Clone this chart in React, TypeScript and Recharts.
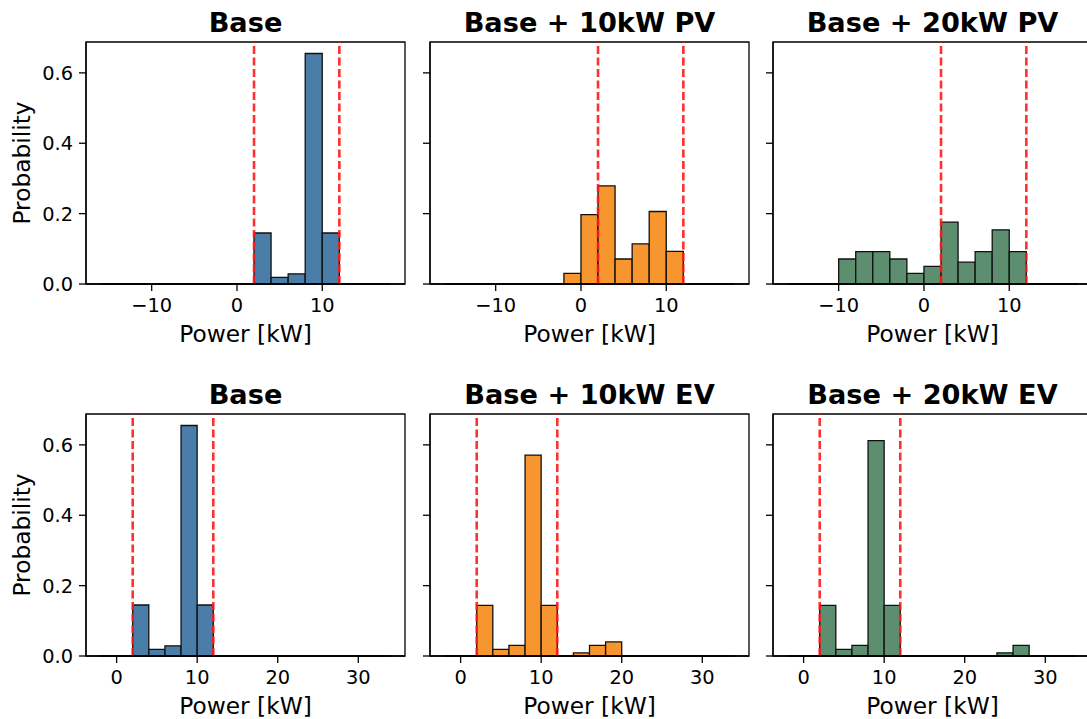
import React from "react";
import {
  BarChart,
  Bar,
  XAxis,
  YAxis,
  ReferenceLine,
  ReferenceArea,
} from "recharts";

// bin centres (2 kW wide bins)
const topBins = [-15, -13, -11, -9, -7, -5, -3, -1, 1, 3, 5, 7, 9, 11, 13, 15, 17];
const bottomBins = [-1, 1, 3, 5, 7, 9, 11, 13, 15, 17, 19, 21, 23, 25, 27, 29, 31, 33];

const baseTop = [0, 0, 0, 0, 0, 0, 0, 0, 0, 0.145, 0.019, 0.029, 0.655, 0.145, 0, 0, 0];
const pv10 = [0, 0, 0, 0, 0, 0, 0, 0.03, 0.197, 0.279, 0.071, 0.114, 0.206, 0.093, 0, 0, 0];
const pv20 = [0, 0, 0, 0.071, 0.092, 0.092, 0.071, 0.03, 0.05, 0.176, 0.062, 0.092, 0.154, 0.092, 0, 0, 0];

const baseBottom = [0, 0, 0.145, 0.019, 0.029, 0.655, 0.145, 0, 0, 0, 0, 0, 0, 0, 0, 0, 0, 0];
const ev10 = [0, 0, 0.144, 0.019, 0.03, 0.571, 0.144, 0, 0.009, 0.03, 0.04, 0, 0, 0, 0, 0, 0, 0];
const ev20 = [0, 0, 0.144, 0.019, 0.03, 0.612, 0.144, 0, 0, 0, 0, 0, 0, 0.009, 0.03, 0, 0, 0];

const topTicks = [-10, 0, 10];
const bottomTicks = [0, 10, 20, 30];
const yTicks = [0, 0.2, 0.4, 0.6];
const limits = [2, 12];

const topTitles = ["Base", "Base + 10kW PV", "Base + 20kW PV"];
const bottomTitles = ["Base", "Base + 10kW EV", "Base + 20kW EV"];
const colors = ["#4a7da7", "#f7952e", "#5c8e6f"];

const BIN_W = 2;
const FONT = "DejaVu Sans";
const PLOT_W = 319;
const PLOT_H = 242;
const M_TOP = 10;
const Y_W = 80;
const X_H = 70;
const colLefts = [86, 430, 773];
const rowTops = [42, 414];

const yMax = Math.max(...baseTop, ...pv10, ...pv20, ...baseBottom, ...ev10, ...ev20) * 1.05;

const fmtX = (v: number) => (v < 0 ? "\u2212" + Math.abs(v) : String(v));

interface PanelProps {
  bins: number[];
  values: number[];
  color: string;
  ticks: number[];
  yLabels: boolean;
  left: number;
  top: number;
}

function Panel({ bins, values, color, ticks, yLabels, left, top }: PanelProps) {
  const lo = bins[0] - BIN_W / 2;
  const hi = bins[bins.length - 1] + BIN_W / 2;
  const pad = (hi - lo) * 0.05;
  const xMin = lo - pad;
  const xMax = hi + pad;
  const data = bins.map((b, i) => ({ x: b, p: values[i] }));
  const barPx = (PLOT_W * BIN_W) / (xMax - xMin) - 0.02;

  return (
    <div style={{ position: "absolute", left: left - Y_W, top: top - M_TOP }}>
      <BarChart
        width={Y_W + PLOT_W + 10}
        height={M_TOP + PLOT_H + X_H}
        data={data}
        margin={{ top: M_TOP, right: 10, bottom: 0, left: 0 }}
        barCategoryGap={0}
        barGap={0}
      >
        <XAxis
          dataKey="x"
          type="number"
          domain={[xMin, xMax]}
          allowDataOverflow
          ticks={ticks}
          tickFormatter={fmtX}
          height={X_H}
          tickSize={7}
          tickMargin={7}
          tickLine={{ stroke: "#000", strokeWidth: 1.3 }}
          axisLine={{ stroke: "#000", strokeWidth: 1.3 }}
          tick={{ fontSize: 19.4, fill: "#000", fontFamily: FONT }}
        />
        <YAxis
          type="number"
          domain={[0, yMax]}
          allowDataOverflow
          ticks={yTicks}
          tickFormatter={(v: number) => (yLabels ? v.toFixed(1) : "")}
          width={Y_W}
          tickSize={7}
          tickMargin={6}
          tickLine={{ stroke: "#000", strokeWidth: 1.3 }}
          axisLine={{ stroke: "#000", strokeWidth: 1.3 }}
          tick={{ fontSize: 19.4, fill: "#000", fontFamily: FONT }}
        />
        <ReferenceArea
          x1={xMin}
          x2={xMax}
          y1={0}
          y2={yMax}
          fill="none"
          fillOpacity={0}
          stroke="#000"
          strokeWidth={1.3}
          strokeOpacity={1}
        />
        <Bar
          dataKey="p"
          fill={color}
          stroke="#111"
          strokeWidth={1.3}
          barSize={barPx}
          isAnimationActive={false}
        />
        <ReferenceLine
          segment={[
            { x: lo, y: 0 },
            { x: hi, y: 0 },
          ]}
          stroke="#000"
          strokeWidth={1.3}
        />
        {limits.map((l) => (
          <ReferenceLine
            key={l}
            x={l}
            stroke="#ff1a1a"
            strokeOpacity={0.9}
            strokeWidth={2.6}
            strokeDasharray="8 3.5"
          />
        ))}
      </BarChart>
    </div>
  );
}

export default function App() {
  const rows = [
    { bins: topBins, series: [baseTop, pv10, pv20], ticks: topTicks, titles: topTitles },
    { bins: bottomBins, series: [baseBottom, ev10, ev20], ticks: bottomTicks, titles: bottomTitles },
  ];

  return (
    <div
      style={{
        position: "absolute",
        left: 0,
        top: 0,
        width: 1087,
        height: 719,
        overflow: "hidden",
        background: "#fff",
      }}
    >
      {rows.map((r, ri) =>
        r.series.map((vals, ci) => (
          <Panel
            key={`${ri}-${ci}`}
            bins={r.bins}
            values={vals}
            color={colors[ci]}
            ticks={r.ticks}
            yLabels={ci === 0}
            left={colLefts[ci]}
            top={rowTops[ri]}
          />
        ))
      )}
      <svg
        width={1087}
        height={719}
        style={{ position: "absolute", left: 0, top: 0, pointerEvents: "none" }}
        fontFamily={FONT}
      >
        {rows.map((r, ri) =>
          r.titles.map((t, ci) => {
            const cx = colLefts[ci] + PLOT_W / 2;
            const top = rowTops[ri];
            return (
              <g key={`t-${ri}-${ci}`}>
                <text x={cx} y={top - 10} textAnchor="middle" fontSize={27.2} fontWeight="bold" fill="#000">
                  {t}
                </text>
                <text x={cx} y={top + PLOT_H + 58} textAnchor="middle" fontSize={23.3} fill="#000">
                  Power [kW]
                </text>
              </g>
            );
          })
        )}
        {rowTops.map((top) => (
          <text
            key={`y-${top}`}
            x={0}
            y={0}
            transform={`translate(30, ${top + PLOT_H / 2}) rotate(-90)`}
            textAnchor="middle"
            fontSize={23.3}
            fill="#000"
          >
            Probability
          </text>
        ))}
      </svg>
    </div>
  );
}
